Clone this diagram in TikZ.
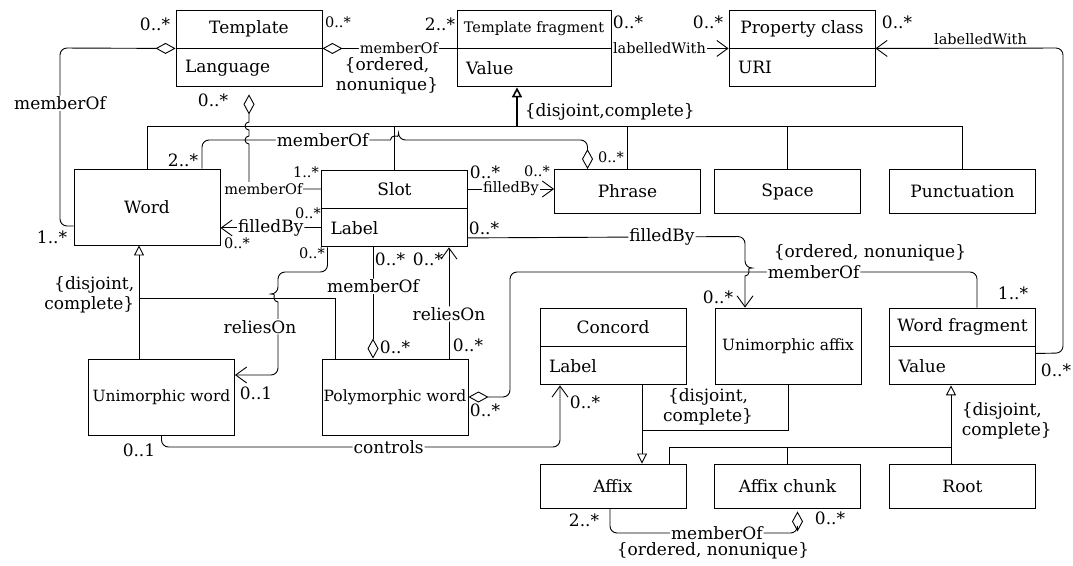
\documentclass[tikz,border=0pt]{standalone}
\usepackage{fontspec}
\setmainfont{DejaVu Serif}
\usetikzlibrary{positioning,arrows.meta}

\newcommand{\smallfs}{\fontsize{14.5}{17}\selectfont}
\newcommand{\midfs}{\fontsize{15.5}{18}\selectfont}

\tikzset{
  cname/.style={draw, minimum width=146pt, minimum height=38pt, inner sep=0pt},
  cattr/.style={draw, minimum width=146pt, minimum height=38pt, inner xsep=9pt,
    inner ysep=0pt, text width=128pt, align=left},
  cbox/.style={draw, minimum width=146pt, minimum height=76pt, inner sep=0pt},
  cflat/.style={draw, minimum width=146pt, minimum height=44pt, inner sep=0pt},
  assoc/.style={rounded corners=7pt},
  agg/.style={assoc, {Diamond[open,length=20pt,width=11pt]}-},
  nav/.style={assoc, -{Straight Barb[length=11pt,width=16pt]}},
  gen/.style={-{Triangle[open,length=10pt,width=10pt]}},
  lbl/.style={fill=white, inner sep=1pt},
  sml/.style={font=\smallfs},
  mult/.style={inner sep=0pt}
}

\begin{document}
\begin{tikzpicture}[x=1pt, y=-1pt, font=\fontsize{17}{20}\selectfont, line width=0.9pt]
\useasboundingbox (0,0) rectangle (1073,565);

% classes
\node[cname] (tpl) at (249,29) {Template};
\node[cattr, below=0pt of tpl] (tplA) {Language};
\node[cname, minimum width=154pt, font=\smallfs] (tfrag) at (534,29) {Template fragment};
\node[cattr, minimum width=154pt, text width=136pt, below=0pt of tfrag] (tfragA) {Value};
\node[cname] (pcls) at (802,29) {Property class};
\node[cattr, below=0pt of pcls] (pclsA) {URI};

\node[cbox] (word) at (147,207) {Word};
\node[cname] (slot) at (394.5,189) {Slot};
\node[cattr, below=0pt of slot] (slotA) {Label};
\node[cflat] (phrase) at (627.5,191.5) {Phrase};
\node[cflat] (space) at (787.5,191.5) {Space};
\node[cflat] (punct) at (962.5,191.5) {Punctuation};

\node[cbox, font=\midfs] (uniword) at (161.5,397) {Unimorphic word};
\node[cbox, font=\midfs] (polyword) at (395,397) {Polymorphic word};
\node[cname] (concord) at (613,327) {Concord};
\node[cattr, below=0pt of concord] (concordA) {Label};
\node[cbox, font=\midfs] (uniaffix) at (788,346) {Unimorphic affix};
\node[cname] (wfrag) at (962.5,327) {Word fragment};
\node[cattr, below=0pt of wfrag] (wfragA) {Value};
\node[cflat] (affix) at (613,486) {Affix};
\node[cflat] (achunk) at (787.5,486) {Affix chunk};
\node[cflat] (root) at (962.5,486) {Root};

% Template -- Word
\draw[agg] (tpl.south west) -- (60,48) -- (60,226)
  node[lbl, pos=0.31] {memberOf} -- (word.west |- 0,226);
% Template -- Template fragment
\draw[agg] (tpl.south east) -- (tfrag.south west)
  node[lbl, sml, pos=0.57] {memberOf};
\node[align=center] (ord1) at (387,76) {\{ordered,\\nonunique\}};
% Template fragment -> Property class
\draw[nav] (tfrag.south east) -- (pcls.south west)
  node[lbl, sml, pos=0.41] {labelledWith};
% Word fragment -> Property class
\draw[nav] ([yshift=-7pt]wfrag.south east) -- (1063,353) -- (1063,48)
  -- (pcls.south east) node[sml, above, pos=0.44] {labelledWith};

% generalization -> Template fragment
\coordinate (tfgen) at ([xshift=-17pt]tfragA.south);
\draw[gen, line width=1.6pt] (tfgen |- 0,126) -- (tfgen);
\draw (word.north) |- (punct.north |- 0,126) -- (punct.north);
\foreach \n in {slot, phrase, space}
  \draw (\n.north) -- (\n.north |- 0,126);
\node[anchor=west] (dc1) at (521,112) {\{disjoint,complete\}};

% Template -- Slot
\draw[agg, sharp corners, shorten <=7pt] (tplA.south) -- (249,122)
  arc[start angle=90, end angle=270, radius=4pt] -- (249,136)
  arc[start angle=90, end angle=270, radius=4pt] -- (249,189)
  -- (slot.west) node[lbl, sml, pos=0.2] {memberOf};
% Word -- Phrase
\draw[agg] ([xshift=-40pt]phrase.north) -- (587.5,140) -- (398.5,140)
  [sharp corners] arc[start angle=0, end angle=180, radius=4pt]
  [rounded corners=7pt] -- (202,140) node[lbl, pos=0.36] {memberOf}
  -- (word.north -| 202,0);
% Slot -> Phrase, Slot -> Word
\draw[nav] (slot.east) -- (slot.east -| phrase.west)
  node[lbl, sml, midway] {filledBy};
\draw[nav] (slotA.west) -- (slotA.west -| word.east)
  node[lbl, midway] {filledBy};
% Slot -> Unimorphic word
\draw[nav] ([xshift=-67pt]slotA.south) -- (327.5,272) -- (278,272) -- (278,294)
  [sharp corners] arc[start angle=90, end angle=270, radius=4pt]
  [rounded corners=7pt] -- (278,375) node[lbl, pos=0.34, xshift=-18pt] {reliesOn}
  -- (uniword.east |- 0,375);

% generalization -> Word
\draw[gen] ([xshift=-22.5pt]uniword.north) -- ([xshift=-8pt]word.south);
\draw ([xshift=14pt]polyword.north west) |- (139,298);
\node[align=right, anchor=east] (dc2) at (138,295) {\{disjoint,\\complete\}};

% Slot -- Polymorphic word
\draw[agg] ([xshift=-22pt]polyword.north) -- ([xshift=-21.5pt]slotA.south)
  node[lbl, pos=0.65] {memberOf};
\draw[nav] ([xshift=54pt]polyword.north) -- ([xshift=54.5pt]slotA.south)
  node[lbl, pos=0.4] {reliesOn};
% Slot -> Unimorphic affix
\draw[nav] ([yshift=-10pt]slotA.east) -- (745,236.5) node[lbl, pos=0.7] {filledBy}
  -- (745,268)
  [sharp corners] arc[start angle=90, end angle=-90, radius=4pt]
  [rounded corners=7pt] -- ([xshift=-43pt]uniaffix.north);
% Polymorphic word -- Word fragment
\draw[agg] (polyword.east) -- (510,397) -- (510,272) -- (977,272)
  node[lbl, pos=0.65] {memberOf} -- ([xshift=14.5pt]wfrag.north);
\node (ord2) at (870,253) {\{ordered, nonunique\}};
% Unimorphic word -> Concord
\draw[nav] (uniword.south) -- (161.5,447) -- (560,447)
  node[lbl, pos=0.57] {controls} -- ([xshift=-53pt]concordA.south);

% generalization -> Affix
\draw[gen] ([xshift=29pt]concordA.south) -- ([xshift=29pt]affix.north);
\draw (uniaffix.south) |- (642,430);
\node[align=center] (dc3) at (708,407) {\{disjoint,\\complete\}};
% generalization -> Word fragment
\draw[gen] ([xshift=-11.5pt]root.north) -- ([xshift=-11.5pt]wfragA.south);
\draw ([xshift=56pt]affix.north) |- (951,447);
\draw (achunk.north) -- (achunk.north |- 0,447);
\node[align=left, anchor=west] (dc4) at (958,421) {\{disjoint,\\complete\}};

% Affix chunk -- Affix
\draw[agg, shorten <=3pt] ([xshift=10pt]achunk.south) -- (797.5,533) -- (610,533)
  node[lbl, pos=0.43] {memberOf} -- ([xshift=-3pt]affix.south);
\node (ord3) at (713,551) {\{ordered, nonunique\}};

% multiplicities
\node[mult] (m1) at (155,24) {0..*};
\node[mult, sml] (m2) at (338,22) {0..*};
\node[mult] (m3) at (440,24) {2..*};
\node[mult] (m4) at (628,22) {0..*};
\node[mult] (m5) at (708,22) {0..*};
\node[mult] (m6) at (897,22) {0..*};
\node[mult] (m7) at (52,237) {1..*};
\node[mult] (m8) at (213,100) {0..*};
\node[mult] (m9) at (183,160) {2..*};
\node[mult, sml] (m10) at (611,157) {0..*};
\node[mult, sml] (m11) at (306,172) {1..*};
\node[mult] (m12) at (485,172) {0..*};
\node[mult, sml] (m13) at (537,171) {0..*};
\node[mult, sml] (m14) at (308,213) {0..*};
\node[mult, sml] (m15) at (237,243) {0..*};
\node[mult] (m16) at (484,228) {0..*};
\node[mult, sml] (m17) at (312,253) {0..*};
\node[mult] (m18) at (256,393) {0..1};
\node[mult] (m19) at (390,259) {0..*};
\node[mult] (m20) at (395,347) {0..*};
\node[mult] (m21) at (428,259) {0..*};
\node[mult] (m22) at (468,345) {0..*};
\node[mult] (m23) at (718,297) {0..*};
\node[mult] (m24) at (485,410) {0..*};
\node[mult] (m25) at (1013,293) {1..*};
\node[mult] (m26) at (1056,370) {0..*};
\node[mult] (m27) at (139,450) {0..1};
\node[mult] (m28) at (585,402) {0..*};
\node[mult] (m29) at (584,520) {2..*};
\node[mult] (m30) at (830,518) {0..*};
\end{tikzpicture}
\end{document}
